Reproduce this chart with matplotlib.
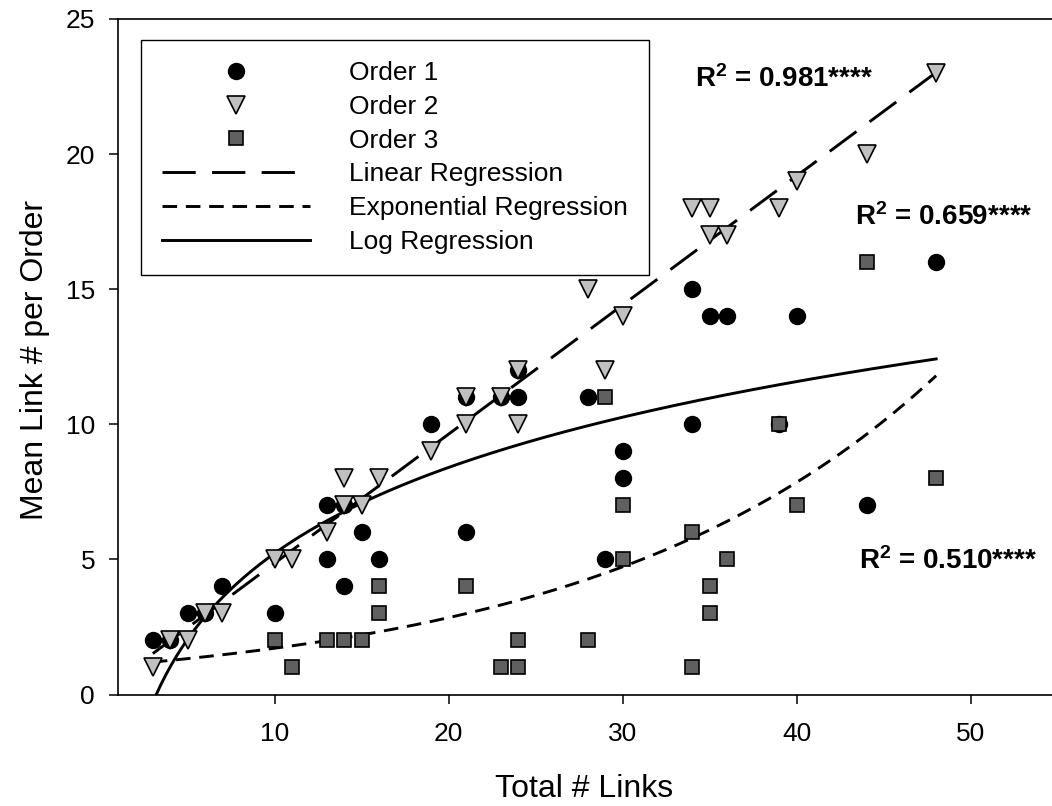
import numpy as np
import matplotlib
matplotlib.use("Agg")
import matplotlib.pyplot as plt
from matplotlib.lines import Line2D

plt.rcParams['font.family'] = ['Liberation Sans', 'DejaVu Sans']
plt.rcParams['mathtext.fontset'] = 'custom'
plt.rcParams['mathtext.rm'] = 'Liberation Sans'
plt.rcParams['mathtext.bf'] = 'Liberation Sans:bold'
plt.rcParams['mathtext.it'] = 'Liberation Sans:italic'

# ---------------- data ----------------
order1_x = [3, 4, 5, 6, 7, 10, 13, 13, 14, 14, 15, 16, 19, 21, 21, 23, 24, 24,
            28, 29, 30, 30, 34, 34, 35, 36, 39, 40, 44, 48]
order1_y = [2, 2, 3, 3, 4, 3, 5, 7, 4, 7, 6, 5, 10, 11, 6, 11, 11, 12,
            11, 5, 9, 8, 15, 10, 14, 14, 10, 14, 7, 16]

order2_x = [3, 4, 5, 6, 7, 10, 11, 13, 14, 14, 15, 16, 19, 21, 21, 23, 24, 24,
            28, 29, 30, 34, 35, 35, 36, 39, 40, 44, 48]
order2_y = [1, 2, 2, 3, 3, 5, 5, 6, 7, 8, 7, 8, 9, 11, 10, 11, 12, 10,
            15, 12, 14, 18, 18, 17, 17, 18, 19, 20, 23]

order3_x = [10, 11, 13, 14, 15, 16, 16, 21, 23, 24, 24, 28, 29, 30, 30,
            34, 34, 35, 35, 36, 39, 40, 44, 48]
order3_y = [2, 1, 2, 2, 2, 4, 3, 4, 1, 1, 2, 2, 11, 7, 5,
            6, 1, 4, 3, 5, 10, 7, 16, 8]

# regression coefficients
lin_coef = [0.08, 0.478]      # y = a + b*x   (Order 2)
log_coef = [-5.33, 4.585]     # y = a + b*ln(x) (Order 1)
exp_coef = [1.03, 0.0508]     # y = a*exp(b*x)  (Order 3)
fit_range = [3, 48]

r2_labels = ['0.981', '0.659', '0.510']
sig_label = '****'

x_ticks = [10, 20, 30, 40, 50]
y_ticks = [0, 5, 10, 15, 20, 25]

# ---------------- figure ----------------
W, H = 1052, 806
fig = plt.figure(figsize=(W / 100, H / 100), dpi=100)
ax_left, ax_right, ax_top, ax_bot = 118, 1058, 19, 694.5
ax = fig.add_axes([ax_left / W, 1 - ax_bot / H, (ax_right - ax_left) / W, (ax_bot - ax_top) / H])
ax.set_xlim(1, 55)
ax.set_ylim(0, 25)

xs = np.linspace(fit_range[0], fit_range[1], 300)
lw = 2.1
lin_dash = (11.4, 5.6)
exp_dash = (5, 3)
ax.plot(xs, lin_coef[0] + lin_coef[1] * xs, color='black', lw=lw,
        dashes=lin_dash, zorder=2)
ax.plot(xs, exp_coef[0] * np.exp(exp_coef[1] * xs), color='black', lw=lw,
        dashes=exp_dash, zorder=2)
ax.plot(xs, log_coef[0] + log_coef[1] * np.log(xs), color='black', lw=lw,
        zorder=2)

ax.plot(order1_x, order1_y, 'o', ms=11.5, mfc='black', mec='black', mew=1.0,
        zorder=3, clip_on=False)
ax.plot(order2_x, order2_y, 'v', ms=12.5, mfc='#c0c0c0', mec='black', mew=1.2,
        zorder=4, clip_on=False)
ax.plot(order3_x, order3_y, 's', ms=10.5, mfc='#606060', mec='black', mew=1.2,
        zorder=5, clip_on=False)

# R^2 texts
r2_pos = [(34.14, 22.5), (43.33, 17.39), (43.56, 4.65)]
for (tx, ty), lab in zip(r2_pos, r2_labels):
    ax.text(tx, ty, r'R$^{\mathbf{2}}$ = ' + lab + sig_label,
            fontsize=20, fontweight='bold', ha='left', va='baseline', zorder=6)

# axes styling
for side in ['left', 'bottom', 'top', 'right']:
    ax.spines[side].set_linewidth(1.2)
ax.set_xticks(x_ticks)
ax.set_yticks(y_ticks)
ax.tick_params(axis='both', direction='out', length=6.5, width=1.1, labelsize=19)
ax.tick_params(axis='x', pad=13)
ax.tick_params(axis='y', pad=10)

ax.set_xlabel('Total # Links', fontsize=23)
ax.set_ylabel('Mean Link # per Order', fontsize=23)
ax.xaxis.set_label_coords((584 - ax_left) / (ax_right - ax_left), -(789 - ax_bot) / (ax_bot - ax_top))
ax.yaxis.set_label_coords((35 - ax_left) / (ax_right - ax_left), (ax_bot - 360) / (ax_bot - ax_top))
ax.xaxis.label.set_va('center')
ax.yaxis.label.set_va('center')

handles = [
    Line2D([], [], ls='none', marker='o', ms=11.5, mfc='black', mec='black'),
    Line2D([], [], ls='none', marker='v', ms=12.5, mfc='#c0c0c0', mec='black', mew=1.2),
    Line2D([], [], ls='none', marker='s', ms=10.5, mfc='#606060', mec='black', mew=1.2),
    Line2D([], [], color='black', lw=lw, dashes=lin_dash),
    Line2D([], [], color='black', lw=lw, dashes=exp_dash),
    Line2D([], [], color='black', lw=lw),
]
labels = ['Order 1', 'Order 2', 'Order 3', 'Linear Regression',
          'Exponential Regression', 'Log Regression']
leg = ax.legend(handles, labels, loc='upper left',
                bbox_to_anchor=(141 / W, 1 - 40 / H), bbox_transform=fig.transFigure,
                borderaxespad=0, fontsize=19, handlelength=5.6, handletextpad=1.48,
                labelspacing=0.37, borderpad=0.8, fancybox=False, framealpha=1,
                edgecolor='black')
leg.get_frame().set_linewidth(1.0)

fig.savefig('out.png', dpi=100)
